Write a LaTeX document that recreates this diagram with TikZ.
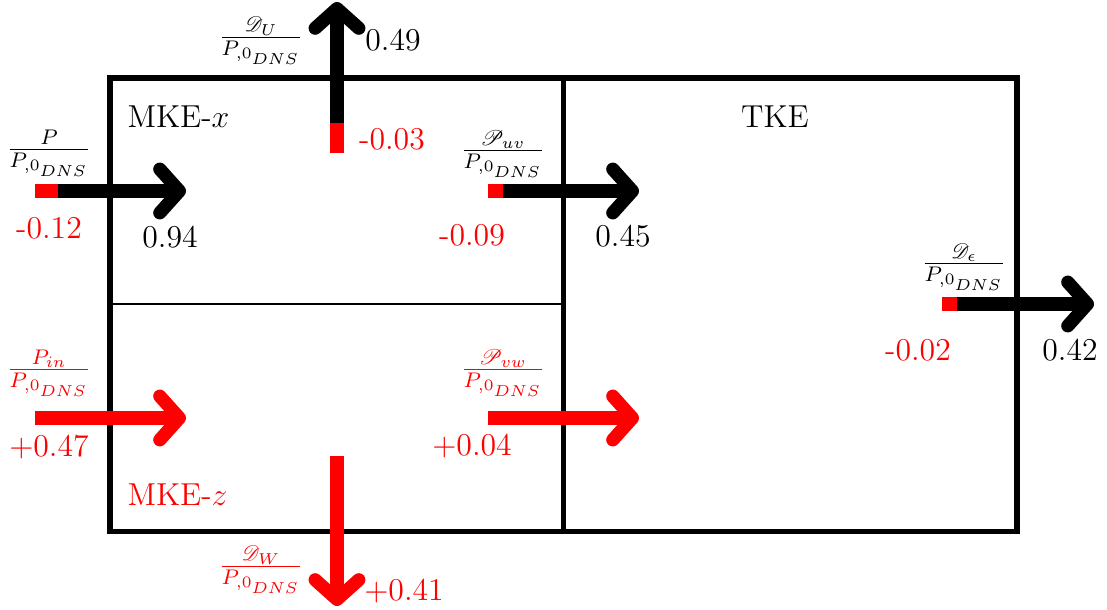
\documentclass[tikz,border=0pt]{standalone}
\usepackage{mathrsfs}
\usetikzlibrary{arrows.meta}
\begin{document}
\begin{tikzpicture}[x=0.378pt,y=-0.378pt,font=\fontsize{12}{14.4}\selectfont,
  flow/.style={line width=5pt},
  headblack/.style={flow,black,-{Straight Barb[round,length=7.4pt,width=16.5pt]}},
  headred/.style={flow,red,-{Straight Barb[round,length=7.4pt,width=16.5pt]}},
  stub/.style={flow,red},
  frac/.style={anchor=base,inner sep=0pt},
  num/.style={inner sep=0pt},
  outer/.style={line width=1.9pt,line join=miter},
  divider/.style={line width=0.75pt}]
\useasboundingbox (0,0) rectangle (1107,609);
% boxes
\coordinate (bl) at (110,531);
\coordinate (tr) at (1017,78);
\coordinate (mt) at (563.5,78);
\coordinate (mb) at (563.5,531);
\coordinate (hl) at (110,304);
\coordinate (hr) at (563.5,304);
\draw[divider] (hl) -- (hr);
\draw[outer] (bl) rectangle (tr);
\draw[outer] (mt) -- (mb);
\node[anchor=base west,inner sep=0pt] (mkex) at (127,127) {MKE-$x$};
\node[anchor=base,inner sep=0pt] (tke) at (775,127) {TKE};
\node[anchor=base west,inner sep=0pt,red] (mkez) at (127,505) {MKE-$z$};
% P arrow
\coordinate (p0) at (35,191);
\coordinate (p1) at (58,191);
\coordinate (p2) at (186,191);
\draw[stub] (p0) -- (p1);
\draw[headblack] (p1) -- (p2);
\node[frac] (fp) at (49,157) {$\frac{P}{P_{,0_{DNS}}}$};
\node[num,red] (np0) at (49,228) {-0.12};
\node[num] (np1) at (170,237) {0.94};
% D_U arrow
\coordinate (u0) at (337,153);
\coordinate (u1) at (337,123);
\coordinate (u2) at (337,2);
\draw[stub] (u0) -- (u1);
\draw[headblack] (u1) -- (u2);
\node[frac] (fu) at (261,45) {$\frac{\mathscr{D}_U}{P_{,0_{DNS}}}$};
\node[num] (nu1) at (393,40) {0.49};
\node[num,red] (nu0) at (392,139) {-0.03};
% P_uv arrow
\coordinate (v0) at (488,191);
\coordinate (v1) at (503,191);
\coordinate (v2) at (639,191);
\draw[stub] (v0) -- (v1);
\draw[headblack] (v1) -- (v2);
\node[frac] (fv) at (503,158) {$\frac{\mathscr{P}_{uv}}{P_{,0_{DNS}}}$};
\node[num,red] (nv0) at (472,235) {-0.09};
\node[num] (nv1) at (623,236) {0.45};
% D_eps arrow
\coordinate (e0) at (942,304);
\coordinate (e1) at (957,304);
\coordinate (e2) at (1094,304);
\draw[stub] (e0) -- (e1);
\draw[headblack] (e1) -- (e2);
\node[frac] (fe) at (964,271) {$\frac{\mathscr{D}_\epsilon}{P_{,0_{DNS}}}$};
\node[num,red] (ne0) at (918,350) {-0.02};
\node[num] (ne1) at (1070,350) {0.42};
% P_in arrow
\coordinate (i0) at (35,418);
\coordinate (i2) at (186,418);
\draw[headred] (i0) -- (i2);
\node[frac,red] (fi) at (49,377) {$\frac{P_{in}}{P_{,0_{DNS}}}$};
\node[num,red] (ni) at (49,447) {+0.47};
% P_vw arrow
\coordinate (w0) at (488,418);
\coordinate (w2) at (639,418);
\draw[headred] (w0) -- (w2);
\node[frac,red] (fw) at (503,377) {$\frac{\mathscr{P}_{vw}}{P_{,0_{DNS}}}$};
\node[num,red] (nw) at (472,446) {+0.04};
% D_W arrow
\coordinate (d0) at (337,456);
\coordinate (d2) at (337,606);
\draw[headred] (d0) -- (d2);
\node[frac,red] (fd) at (261,574) {$\frac{\mathscr{D}_W}{P_{,0_{DNS}}}$};
\node[num,red] (nd) at (404,591) {+0.41};
\end{tikzpicture}
\end{document}
